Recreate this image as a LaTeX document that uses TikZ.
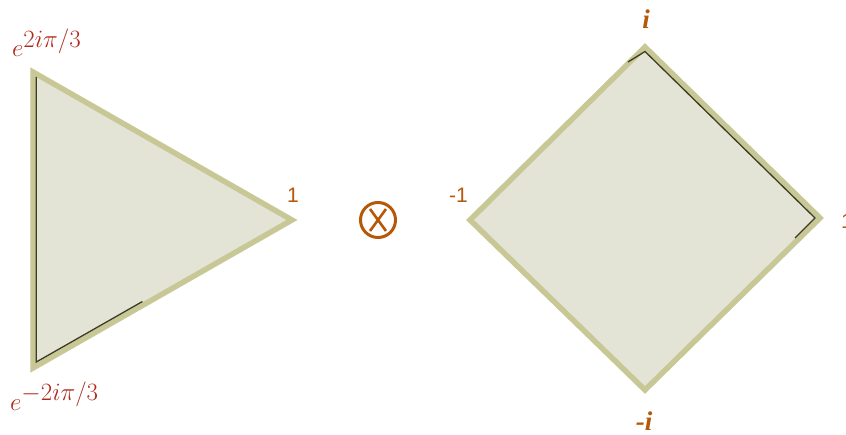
\documentclass[tikz,border=0pt]{standalone}
\usepackage{fontspec}
\setsansfont{Liberation Sans}
\newfontfamily\lblserif{Liberation Serif}
\usetikzlibrary{calc}
\begin{document}
\begin{tikzpicture}[x=1pt,y=-1pt,
  shapefill/.style={fill=facefill, draw=rimolive, line width=5.5pt, line join=miter},
  shadowline/.style={draw=shadowdark, line width=1.3pt, line join=miter},
  redlabel/.style={text=labelred, inner sep=0pt, font=\fontsize{34}{38}\selectfont},
  orlabel/.style={text=labelorange, inner sep=0pt, font=\sffamily\fontsize{21}{24}\selectfont},
  ilabel/.style={text=labelorange, inner sep=0pt, font=\lblserif\bfseries\itshape\fontsize{27}{30}\selectfont}]
\definecolor{facefill}{HTML}{E3E3D6}
\definecolor{rimolive}{HTML}{C8C896}
\definecolor{shadowdark}{HTML}{3C3C22}
\definecolor{labelred}{HTML}{B0281C}
\definecolor{labelorange}{HTML}{B5580A}
\useasboundingbox (0,0) rectangle (846,435);
% triangle
\coordinate (tA) at (33,72);
\coordinate (tB) at (33,368);
\coordinate (tC) at (292,220);
\draw[shapefill] (tA) -- (tC) -- (tB) -- cycle;
\coordinate (tS1) at (36.3,77);
\coordinate (tS2) at (36.3,362);
\coordinate (tS3) at ($(tS2)!0.42!(289,218)$);
\draw[shadowline] (tS1) -- (tS2) -- (tS3);
% square
\coordinate (sT) at (645,47);
\coordinate (sL) at (470,220);
\coordinate (sR) at (820,218);
\coordinate (sB) at (645,390);
\draw[shapefill] (sT) -- (sR) -- (sB) -- (sL) -- cycle;
\coordinate (sS1) at (628,62);
\coordinate (sS2) at (645,51.5);
\coordinate (sS3) at (815,218);
\coordinate (sS4) at (795,238);
\draw[shadowline] (sS1) -- (sS2) -- (sS3) -- (sS4);
% labels
\node[redlabel, anchor=base west] (l1) at (12,57) {$e^{2i\pi/3}$};
\node[redlabel, anchor=base west] (l2) at (10,410) {$e^{-2i\pi/3}$};
\node[orlabel, anchor=base west] (l3) at (287,203) {1};
\node[circle, draw=labelorange, line width=3pt, minimum size=35pt, inner sep=0pt] (ot) at (378,220) {};
\draw[labelorange, line width=2.6pt] ($(ot)+(-8,-11)$) -- ($(ot)+(8,11)$);
\draw[labelorange, line width=2.6pt] ($(ot)+(8,-11)$) -- ($(ot)+(-8,11)$);
\node[orlabel, anchor=base west] (l4) at (449,203) {-1};
\node[ilabel, anchor=base] (l5) at (646,29) {i};
\node[ilabel, anchor=base] (l6) at (644,430) {-i};
\node[orlabel, anchor=base west] (l7) at (841,229) {1};
\end{tikzpicture}
\end{document}
